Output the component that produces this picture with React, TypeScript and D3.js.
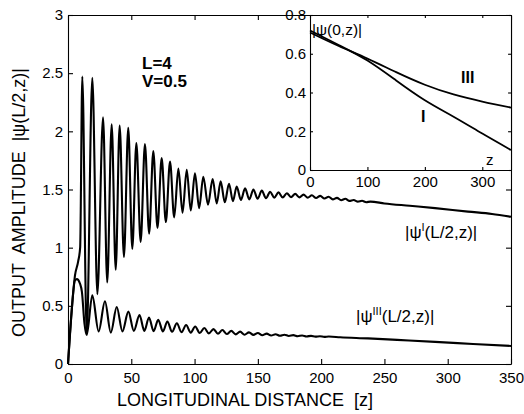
import { useEffect, useRef } from "react";
import * as d3 from "d3";

const zOne = [0, 2.5, 5.5, 8, 9.6, 11.3, 14.8, 19.2, 23.2, 27.7, 31, 34.5, 37.7, 40.8, 44.2, 47.6, 50.8, 54, 57.4, 60.8, 64.1, 67.4, 70.7, 74, 77.3, 80.6, 83.9, 87.2, 90.5, 93.8, 97, 100.3, 103.6, 106.9, 110.6, 114.3, 117.5, 120.6, 123.9, 127.2, 130.3, 133.3, 136.6, 139.9, 143.2, 146.5, 149.8, 153.1, 156.4, 159.7, 163, 166.3, 169.6, 172.9, 176.2, 179.5, 182.8, 186.1, 189.4, 192.7, 196, 199.3, 202.6, 205.9, 209.2, 212.5, 215.8, 219.1, 222.4, 225.7, 229, 232.3, 235.6, 238.9, 250, 270, 290, 316, 335, 350];
const psiOne = [0, 0.4, 0.76, 0.88, 1.0, 2.47, 0.26, 2.46, 0.6, 2.12, 0.7, 2.06, 0.81, 2.05, 0.92, 2.03, 0.99, 1.9, 1.05, 1.89, 1.12, 1.83, 1.17, 1.77, 1.22, 1.74, 1.26, 1.68, 1.3, 1.67, 1.32, 1.64, 1.34, 1.61, 1.37, 1.59, 1.38, 1.57, 1.39, 1.55, 1.4, 1.525, 1.41, 1.51, 1.415, 1.5, 1.42, 1.49, 1.425, 1.48, 1.43, 1.475, 1.432, 1.468, 1.434, 1.462, 1.432, 1.456, 1.43, 1.45, 1.427, 1.445, 1.422, 1.438, 1.415, 1.428, 1.408, 1.42, 1.402, 1.41, 1.396, 1.403, 1.391, 1.396, 1.38, 1.36, 1.34, 1.31, 1.29, 1.265];

// |psi^III(L/2,z)|
const zThree = [0, 2.5, 5.5, 7, 9.5, 11, 13, 14.8, 19.2, 24.2, 29.2, 33.8, 38.5, 43, 47.7, 52, 56.5, 60.3, 64, 67.6, 71.3, 75, 78.5, 82.2, 86, 89.7, 93.3, 97, 100.5, 104.1, 107.7, 111.3, 114.9, 118.5, 122, 125.5, 129, 132.5, 136, 139.5, 143, 146.5, 150, 153.5, 157, 160.5, 164, 167.5, 171, 174.5, 178, 181.5, 185, 188.5, 192, 195.5, 199, 202.5, 206, 215, 237, 260, 290, 320, 350];
const psiThree = [0, 0.4, 0.72, 0.73, 0.69, 0.62, 0.35, 0.25, 0.59, 0.28, 0.54, 0.27, 0.49, 0.28, 0.45, 0.285, 0.42, 0.285, 0.4, 0.283, 0.38, 0.28, 0.365, 0.277, 0.35, 0.273, 0.335, 0.27, 0.322, 0.266, 0.31, 0.263, 0.3, 0.26, 0.292, 0.258, 0.285, 0.255, 0.278, 0.252, 0.272, 0.25, 0.266, 0.247, 0.261, 0.245, 0.256, 0.243, 0.252, 0.241, 0.248, 0.239, 0.245, 0.237, 0.242, 0.235, 0.239, 0.233, 0.236, 0.23, 0.22, 0.207, 0.19, 0.172, 0.155];

// inset |psi(0,z)|
const zInset = [0, 50, 100, 150, 200, 250, 300, 350];
const insetOne = [0.72, 0.645, 0.565, 0.462, 0.36, 0.275, 0.188, 0.103];
const insetThree = [0.71, 0.64, 0.575, 0.505, 0.44, 0.39, 0.353, 0.322];

const xTicks = [0, 50, 100, 150, 200, 250, 300, 350];
const yTicks = [0, 0.5, 1, 1.5, 2, 2.5, 3];
const insetXTicks = [0, 100, 200, 300];
const insetYTicks = [0, 0.2, 0.4, 0.6, 0.8];

const FONT = "'Liberation Sans', Arial, Helvetica, sans-serif";

export default function App() {
  const ref = useRef<SVGSVGElement>(null);

  useEffect(() => {
    const svg = d3.select(ref.current);
    svg.selectAll("*").remove();

    const left = 68, right = 511, top = 15, bottom = 364;
    const x = d3.scaleLinear().domain([0, 350]).range([left, right]);
    const y = d3.scaleLinear().domain([0, 3]).range([bottom, top]);

    const styleAxis = (g: any, size: number) => {
      g.attr("font-family", FONT).attr("font-size", size);
      g.selectAll("path,line").attr("stroke", "#000").attr("stroke-width", 1.1);
      g.selectAll("text").attr("fill", "#000");
    };

    svg.append("g").attr("transform", `translate(0,${bottom})`)
      .call(d3.axisBottom(x).tickValues(xTicks).tickSize(-5).tickSizeOuter(0).tickPadding(8).tickFormat(d3.format("d")))
      .call(styleAxis, 15);
    svg.append("g").attr("transform", `translate(${left},0)`)
      .call(d3.axisLeft(y).tickValues(yTicks).tickSize(-5).tickSizeOuter(0).tickPadding(5).tickFormat((d: any) => String(d)))
      .call(styleAxis, 15);
    svg.append("g").attr("transform", `translate(0,${top})`)
      .call(d3.axisTop(x).tickValues(xTicks).tickSize(-5).tickSizeOuter(0).tickFormat(() => ""))
      .call(styleAxis, 15);
    svg.append("g").attr("transform", `translate(${right},0)`)
      .call(d3.axisRight(y).tickValues(yTicks).tickSize(-5).tickSizeOuter(0).tickFormat(() => ""))
      .call(styleAxis, 15);

    const line = d3.line<[number, number]>()
      .x(d => x(d[0])).y(d => y(d[1]))
      .curve(d3.curveMonotoneX);

    const curves = [
      zOne.map((z, i) => [z, psiOne[i]] as [number, number]),
      zThree.map((z, i) => [z, psiThree[i]] as [number, number]),
    ];
    svg.selectAll("path.main").data(curves).enter().append("path")
      .attr("class", "main")
      .attr("d", d => line(d))
      .attr("fill", "none").attr("stroke", "#000").attr("stroke-width", 2.1)
      .attr("stroke-linejoin", "round");

    // labels in main plot
    const txt = (s: string, tx: number, ty: number, size: number, weight = "normal") =>
      svg.append("text").attr("x", tx).attr("y", ty)
        .attr("font-family", FONT).attr("font-size", size).attr("font-weight", weight)
        .style("white-space", "pre").text(s);

    txt("L=4", 142, 68.5, 17, "bold");
    txt("V=0.5", 142, 86.5, 17, "bold");

    const supLabel = (sup: string, tx: number, ty: number) => {
      const t = svg.append("text").attr("x", tx).attr("y", ty)
        .attr("font-family", FONT).attr("font-size", 17);
      t.append("tspan").text("|ψ");
      t.append("tspan").attr("font-size", 11).attr("dy", -7).text(sup);
      t.append("tspan").attr("dy", 7).text("(L/2,z)|");
    };
    supLabel("I", 405, 238);
    supLabel("III", 356, 322);

    // axis titles
    txt("LONGITUDINAL DISTANCE  [z]", 117, 406, 18);
    svg.append("text")
      .attr("transform", "translate(25,337) rotate(-90)")
      .attr("font-family", FONT).attr("font-size", 18)
      .style("white-space", "pre")
      .text("OUTPUT  AMPLITUDE  |ψ(L/2,z)|");

    // inset
    const il = 310, ib = 170;
    const xi = d3.scaleLinear().domain([0, 350]).range([il, right]);
    const yi = d3.scaleLinear().domain([0, 0.8]).range([ib, top]);

    svg.append("rect").attr("x", il).attr("y", top)
      .attr("width", right - il).attr("height", ib - top).attr("fill", "#fff");

    svg.append("g").attr("transform", `translate(0,${ib})`)
      .call(d3.axisBottom(xi).tickValues(insetXTicks).tickSize(-3).tickSizeOuter(0).tickPadding(6).tickFormat(d3.format("d")))
      .call(styleAxis, 15);
    svg.append("g").attr("transform", `translate(${il},0)`)
      .call(d3.axisLeft(yi).tickValues(insetYTicks).tickSize(-3).tickSizeOuter(0).tickPadding(4).tickFormat((d: any) => String(d)))
      .call(styleAxis, 15);
    svg.append("g").attr("transform", `translate(0,${top})`)
      .call(d3.axisTop(xi).tickValues(insetXTicks).tickSize(-3).tickSizeOuter(0).tickFormat(() => ""))
      .call(styleAxis, 15);
    svg.append("g").attr("transform", `translate(${right},0)`)
      .call(d3.axisRight(yi).tickValues(insetYTicks).tickSize(-3).tickSizeOuter(0).tickFormat(() => ""))
      .call(styleAxis, 15);

    const lineI = d3.line<[number, number]>()
      .x(d => xi(d[0])).y(d => yi(d[1]))
      .curve(d3.curveNatural);
    const insetCurves = [
      zInset.map((z, i) => [z, insetOne[i]] as [number, number]),
      zInset.map((z, i) => [z, insetThree[i]] as [number, number]),
    ];
    svg.selectAll("path.inset").data(insetCurves).enter().append("path")
      .attr("class", "inset")
      .attr("d", d => lineI(d))
      .attr("fill", "none").attr("stroke", "#000").attr("stroke-width", 1.8);

    txt("|ψ(0,z)|", 312, 35, 15.5);
    txt("III", 461, 83, 16, "bold");
    txt("I", 421, 122, 16, "bold");
    txt("z", 486, 165, 15);
  }, []);

  return (
    <svg ref={ref} width={524} height={414}
      style={{ position: "absolute", left: 0, top: 0, background: "#fff" }} />
  );
}
